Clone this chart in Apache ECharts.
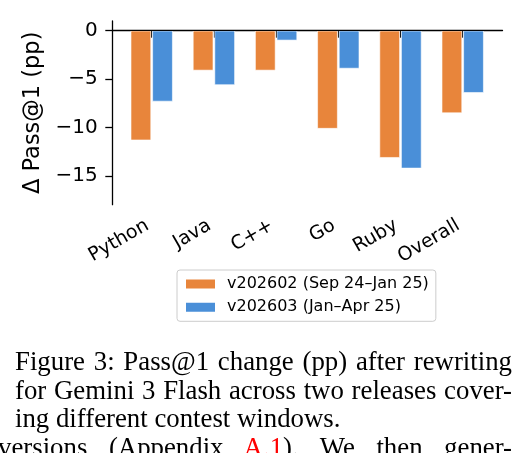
<!DOCTYPE html>
<html>
<head>
<meta charset="utf-8">
<script src="https://cdn.jsdelivr.net/npm/echarts@6.0.0/dist/echarts.min.js"></script>
<style>
  html, body { margin: 0; padding: 0; background: #fff; }
  #wrap { position: relative; width: 529px; height: 453px; overflow: hidden; }
  #chart { position: absolute; left: 0; top: 0; width: 529px; height: 453px; }
  .cap { position: absolute; font-family: 'Liberation Serif', serif; font-size: 26.8px;
         line-height: 28.7px; color: #000; white-space: nowrap; }
  .just { text-align: justify; text-align-last: justify; white-space: normal; }
</style>
</head>
<body>
<div id="wrap">
  <div id="chart"></div>
  <div class="cap just" style="left:15px; top:347px; width:497px;">Figure 3: Pass@1 change (pp) after rewriting</div>
  <div class="cap just" style="left:15px; top:375.7px; width:497px;">for Gemini 3 Flash across two releases cover-</div>
  <div class="cap" style="left:15px; top:404.4px;">ing different contest windows.</div>
  <div class="cap just" style="left:-2px; top:433.1px; width:514px;">versions (Appendix <span style="color:#f00">A.1</span>). We then gener-</div>
</div>
<script>
const categories = ['Python', 'Java', 'C++', 'Go', 'Ruby', 'Overall'];
const v202602 = [-11.3, -4.1, -4.1, -10.1, -13.1, -8.5];
const v202603 = [-7.3, -5.6, -1.0, -3.9, -14.2, -6.4];
const yTicks = [0, -5, -10, -15];
const seriesNames = ['v202602 (Sep 24\u2013Jan 25)', 'v202603 (Jan\u2013Apr 25)'];

const chart = echarts.init(document.getElementById('chart'));
const font = 'DejaVu Sans';
const yMin = -17.94, yMax = 1.01;
const minus = v => (v < 0 ? '\u2212' + (-v) : String(v));

chart.setOption({
  animation: false,
  textStyle: { fontFamily: font },
  grid: [
    { left: 112.3, top: 20.9, width: 390.2, height: 183.8 },
    { left: 120.6, top: 20.9, width: 373.2, height: 183.8 }
  ],
  xAxis: [
    {
      type: 'value', gridIndex: 0, min: 0, max: 1,
      axisLine: { show: true, lineStyle: { color: '#000', width: 1.3 } },
      axisTick: { show: false }, axisLabel: { show: false }, splitLine: { show: false }
    },
    {
      type: 'category', gridIndex: 1, data: categories,
      axisLine: { show: false },
      axisTick: { show: true, alignWithLabel: true, length: 7, lineStyle: { color: '#000', width: 1.3 } },
      axisLabel: { rotate: 30, fontSize: 19, color: '#000', margin: 17, interval: 0, padding: [0, 5, 0, 0] }
    }
  ],
  yAxis: [
    {
      type: 'value', gridIndex: 0, min: yMin, max: yMax,
      name: '\u0394 Pass@1 (pp)', nameLocation: 'middle', nameGap: 61, nameRotate: 90,
      nameTextStyle: { fontSize: 22.5, color: '#000' },
      axisLine: { show: true, lineStyle: { color: '#000', width: 1.3 } },
      axisTick: { show: true, length: 7, customValues: yTicks, lineStyle: { color: '#000', width: 1.3 } },
      axisLabel: { customValues: yTicks, fontSize: 20, color: '#000', margin: 14.5, formatter: minus },
      splitLine: { show: false }
    },
    {
      type: 'value', gridIndex: 1, min: yMin, max: yMax, show: false
    }
  ],
  legend: {
    orient: 'vertical', left: 177, top: 270,
    data: seriesNames,
    icon: 'rect', itemWidth: 31, itemHeight: 11, itemGap: 7.3,
    padding: [6, 7, 6, 7],
    borderColor: '#cccccc', borderWidth: 1, borderRadius: 3,
    textStyle: { fontSize: 16, color: '#000', padding: [0, 0, 0, 6] }
  },
  series: [
    {
      type: 'line', xAxisIndex: 0, yAxisIndex: 0, data: [],
      markLine: {
        silent: true, symbol: 'none', label: { show: false },
        lineStyle: { color: '#000', width: 1, type: 'solid' },
        data: [{ yAxis: 0 }]
      }
    },
    {
      name: seriesNames[0], type: 'bar', xAxisIndex: 1, yAxisIndex: 1,
      data: v202602, barWidth: 20.4, barGap: '6%',
      itemStyle: { color: '#E8853B', borderColor: '#fff', borderWidth: 0.6 }
    },
    {
      name: seriesNames[1], type: 'bar', xAxisIndex: 1, yAxisIndex: 1,
      data: v202603, barWidth: 20.4,
      itemStyle: { color: '#4A8FD8', borderColor: '#fff', borderWidth: 0.6 }
    }
  ]
});
</script>
</body>
</html>
